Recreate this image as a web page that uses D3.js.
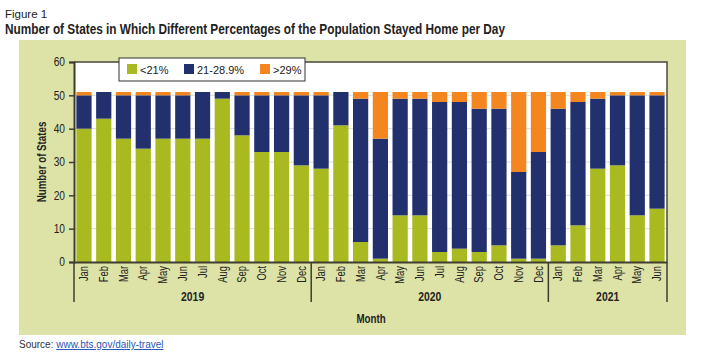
<!DOCTYPE html>
<html><head><meta charset="utf-8">
<script src="https://cdn.jsdelivr.net/npm/d3@7"></script>
<style>
body{margin:0;background:#fff;}
svg text{font-family:"Liberation Sans Narrow","Arial Narrow","Liberation Sans",sans-serif;}
</style></head><body>
<svg id="c" width="707" height="359"></svg>
<script>
const months = ["Jan","Feb","Mar","Apr","May","Jun","Jul","Aug","Sep","Oct","Nov","Dec",
                "Jan","Feb","Mar","Apr","May","Jun","Jul","Aug","Sep","Oct","Nov","Dec",
                "Jan","Feb","Mar","Apr","May","Jun"];
const years = [{label:"2019", start:0, end:12},{label:"2020", start:12, end:24},{label:"2021", start:24, end:30}];
const seriesNames = ["<21%","21-28.9%",">29%"];
const low  = [40,43,37,34,37,37,37,49,38,33,33,29, 28,41,6,1,14,14,3,4,3,5,1,1, 5,11,28,29,14,16];
const mid  = [10,8,13,16,13,13,14,2,12,17,17,21, 22,10,43,36,35,35,45,44,43,41,26,32, 41,37,21,21,36,34];
const high = [1,0,1,1,1,1,0,0,1,1,1,1, 1,0,2,14,2,2,3,3,5,5,24,18, 5,3,2,1,1,1];
const yTicks = [0,10,20,30,40,50,60];
const colors = ["#a9b920","#22306e","#f4861f"];

const svg = d3.select("#c");
function condense(sel, f){ sel.each(function(){ const w=this.getComputedTextLength(); d3.select(this).attr("textLength",w*f).attr("lengthAdjust","spacingAndGlyphs"); }); }

svg.append("text").attr("x",5).attr("y",18).attr("font-size",11.5).attr("fill","#222")
  .style("font-family","'Liberation Sans',Arial,sans-serif").text("Figure 1");
const title = svg.append("text").attr("x",5).attr("y",34).attr("font-size",14).attr("font-weight","bold").attr("fill","#222")
  .text("Number of States in Which Different Percentages of the Population Stayed Home per Day");
title.attr("textLength",500).attr("lengthAdjust","spacingAndGlyphs");

svg.append("rect").attr("x",19).attr("y",40).attr("width",667).attr("height",295).attr("fill","#dde2a6");

const L=74, R=667, T=62, B=262;
svg.append("rect").attr("x",L).attr("y",T).attr("width",R-L).attr("height",B-T).attr("fill","#fff");

const x = d3.scaleBand().domain(d3.range(months.length)).range([L,R]).paddingInner(0.23).paddingOuter(0.12);
const y = d3.scaleLinear().domain([0,60]).range([B,T]);

svg.append("g").selectAll("line").data(yTicks.filter(d=>d>0)).join("line")
  .attr("x1",L).attr("x2",R).attr("y1",d=>y(d)).attr("y2",d=>y(d))
  .attr("stroke","#dcdcdc").attr("stroke-width",1);

const table = months.map((m,i)=>({i, a:low[i], b:mid[i], c:high[i]}));
const stack = d3.stack().keys(["a","b","c"])(table);
svg.append("g").selectAll("g").data(stack).join("g").attr("fill",(d,i)=>colors[i])
  .selectAll("rect").data(d=>d).join("rect")
  .attr("x",d=>x(d.data.i)).attr("width",x.bandwidth())
  .attr("y",d=>y(d[1])).attr("height",d=>y(d[0])-y(d[1]));

svg.append("path").attr("d",`M${L},${T}H${R}V${B}`).attr("fill","none").attr("stroke","#4a4a3a").attr("stroke-width",1.5);

const ya = svg.append("g").attr("transform",`translate(${L},0)`)
  .call(d3.axisLeft(y).tickValues(yTicks).tickSize(5).tickPadding(4));
ya.select(".domain").attr("stroke","#3e3e30").attr("stroke-width",2);
ya.selectAll(".tick line").attr("stroke","#3e3e30").attr("stroke-width",1.5);
ya.selectAll("text").attr("font-size",12).attr("fill","#222");
condense(ya.selectAll("text"),0.85);

const xa = svg.append("g").attr("transform",`translate(0,${B})`)
  .call(d3.axisBottom(x).tickFormat(i=>months[i]).tickSize(0));
xa.select(".domain").attr("stroke","#3e3e30").attr("stroke-width",2);
xa.selectAll(".tick text").attr("transform","rotate(-90)").attr("text-anchor","end")
  .attr("x",-4).attr("y",0).attr("dy","0.35em").attr("font-size",12).attr("fill","#222");
condense(xa.selectAll(".tick text"),0.78);

const bounds = [0,12,24,30];
const step = x.step();
const bx = i => i===0?L:(i===30?R:x(i)-step*x.paddingInner()/2);
svg.append("g").selectAll("line").data(bounds).join("line")
  .attr("x1",d=>bx(d)).attr("x2",d=>bx(d)).attr("y1",B).attr("y2",302)
  .attr("stroke","#3e3e30").attr("stroke-width",1.5);
const yl = svg.append("g").selectAll("text").data(years).join("text")
  .attr("x",d=>(bx(d.start)+bx(d.end))/2).attr("y",301).attr("text-anchor","middle")
  .attr("font-size",13).attr("font-weight","bold").attr("fill","#222").text(d=>d.label);
condense(yl,0.8);

const mt = svg.append("text").attr("x",371).attr("y",323).attr("text-anchor","middle")
  .attr("font-size",13).attr("font-weight","bold").attr("fill","#222").text("Month");
condense(mt,0.75);
const nt = svg.append("text").attr("transform",`translate(46,${(T+B)/2}) rotate(-90)`).attr("text-anchor","middle")
  .attr("font-size",13).attr("font-weight","bold").attr("fill","#222").text("Number of States");
condense(nt,0.75);

const lg = svg.append("g");
lg.append("rect").attr("x",119).attr("y",58).attr("width",186).attr("height",23).attr("fill","#fff").attr("stroke","#333").attr("stroke-width",1);
const lx = [127,184,260];
seriesNames.forEach((n,i)=>{
  lg.append("rect").attr("x",lx[i]).attr("y",64).attr("width",10).attr("height",10).attr("fill",colors[i]);
  lg.append("text").attr("x",lx[i]+13).attr("y",73.5).attr("font-size",11).attr("fill","#222")
    .style("font-family","'Liberation Sans',Arial,sans-serif").text(n);
});

const src = svg.append("text").attr("x",19).attr("y",348).attr("font-size",10).attr("fill","#333");
src.append("tspan").text("Source: ");
src.append("tspan").attr("fill","#2a57b8").attr("text-decoration","underline").text("www.bts.gov/daily-travel");
</script></body></html>
